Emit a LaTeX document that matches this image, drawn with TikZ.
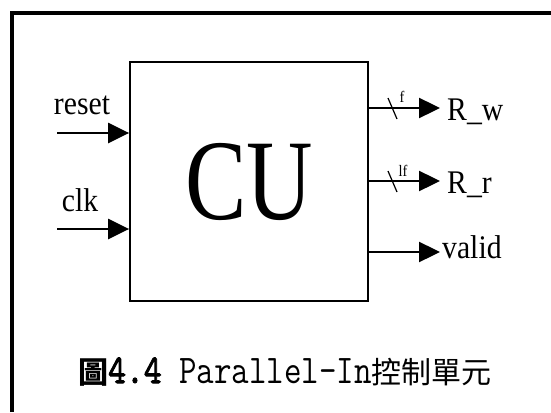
\documentclass[tikz,border=0pt]{standalone}
\usepackage{graphicx}
\usepackage{fontspec}
\setmainfont{Liberation Serif}
\newfontfamily\cjk{Noto Sans CJK TC}
\newfontfamily\boldmono[FakeBold=2.5]{lmmono10-regular.otf}
\usetikzlibrary{arrows.meta}

\tikzset{
  sig/.style={line width=2.4pt,-{Triangle[length=21pt,width=20pt]}},
  pin/.style={font=\fontsize{33}{33}\selectfont, inner sep=0pt},
  buswidth/.style={font=\fontsize{16}{16}\selectfont, inner sep=0pt},
}
\newcommand{\narrow}[2][0.9]{\scalebox{#1}[1]{#2}}
\newcommand{\tallmono}[1]{\scalebox{1}[1.2]{\fontsize{34}{34}\selectfont\ttfamily #1}}

\begin{document}
\begin{tikzpicture}[x=1pt,y=1pt]
        \useasboundingbox (0,0) rectangle (551,-412);
        % Frame
        \draw[line width=3.5pt] (12,-412) -- (12,-13) -- (551,-13);

        % Control unit
        \node[draw, line width=1.8pt, minimum width=238pt, minimum height=239pt, inner sep=0pt]
            (cu) at (249,-181.5) {\fontsize{115}{115}\selectfont\narrow[0.8]{CU}};

        % Inputs
        \coordinate (resetin) at (57,-133);
        \coordinate (clkin) at (57,-229);
        \draw[sig] (resetin) -- (resetin -| cu.west);
        \draw[sig] (clkin) -- (clkin -| cu.west);
        \node[pin, anchor=base] (resetlbl) at (82,-114) {\narrow{reset}};
        \node[pin, anchor=base] (clklbl) at (80,-211) {\narrow{clk}};

        % Outputs
        \coordinate (rwout) at (440,-108);
        \coordinate (rrout) at (440,-181);
        \coordinate (validout) at (440,-252);
        \draw[sig] (rwout -| cu.east) -- (rwout);
        \draw[sig] (rrout -| cu.east) -- (rrout);
        \draw[sig] (validout -| cu.east) -- (validout);
        \node[pin, anchor=base west] (rwlbl) at (447,-120) {\narrow{R\_w}};
        \node[pin, anchor=base west] (rrlbl) at (447,-193) {\narrow{R\_r}};
        \node[pin, anchor=base west] (validlbl) at (442,-258) {\narrow{valid}};

        % Bus widths
        \draw[line width=1.2pt] (388,-98) -- (397,-119);
        \draw[line width=1.2pt] (388,-171) -- (397,-192);
        \node[buswidth] (rwbits) at (402,-97) {\narrow{f}};
        \node[buswidth] (rrbits) at (403,-171) {\narrow{lf}};

        % Caption
        \node[inner sep=0pt, anchor=base] (caption) at (285,-383)
            {\fontsize{30}{30}\selectfont{\cjk\bfseries 圖}\tallmono{{\boldmono 4.4} Parallel-In}{\cjk 控制單元}};
\end{tikzpicture}
\end{document}
